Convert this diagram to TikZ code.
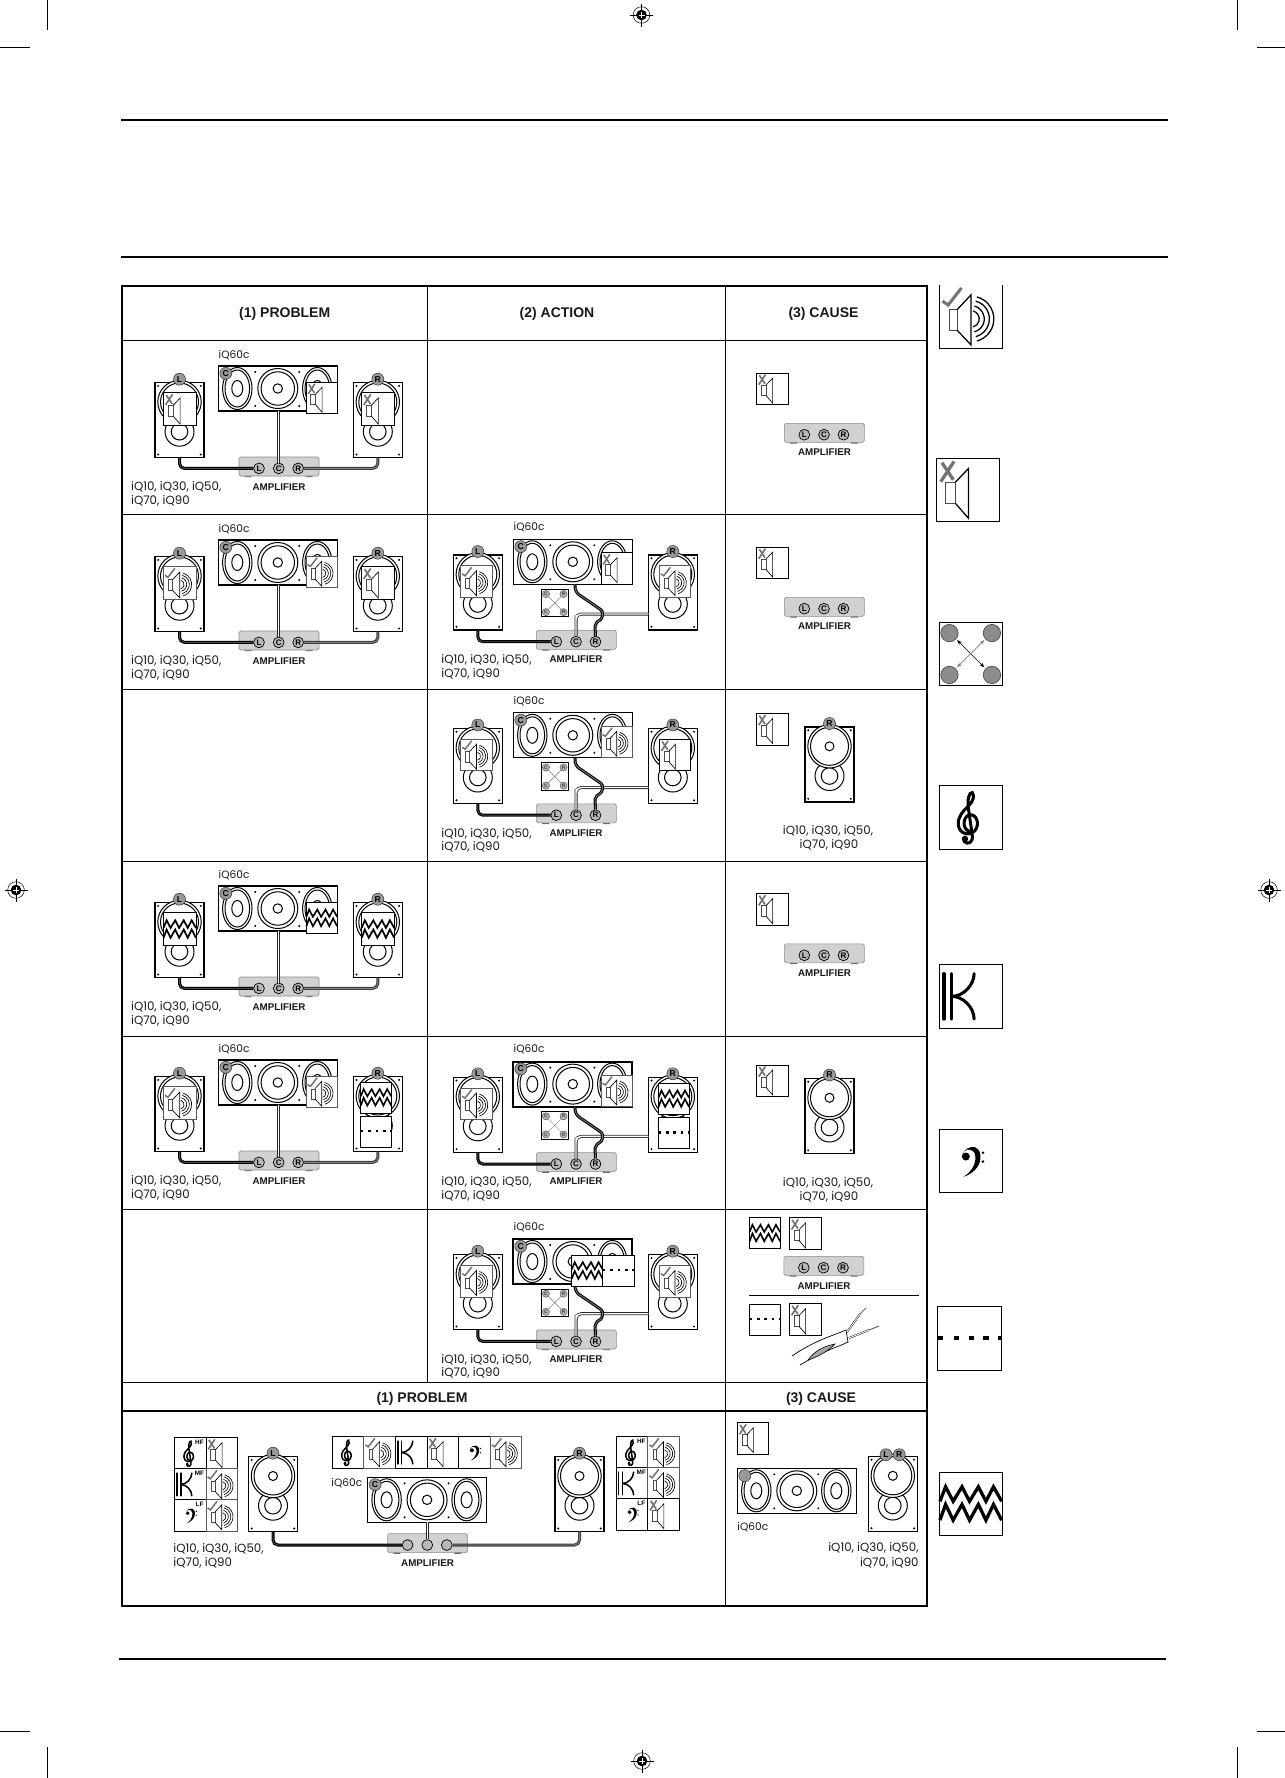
\documentclass[tikz,border=0pt]{standalone}
\usepackage{fontspec}
\setmainfont{Liberation Sans}
\newfontfamily\geo{Poppins}
\usetikzlibrary{arrows.meta}
\newcount\nn
\newcommand\tx[4][]{\global\advance\nn by 1 \node[#1] (t\the\nn) at (#2,#3) {#4};}
\tikzset{
 x=0.5pt,y=-0.5pt,
 lbl/.style={font=\geo\fontsize{5.9}{6}\selectfont,inner sep=0pt,text=black!90},
 lblc/.style={font=\geo\fontsize{5.3}{6}\selectfont,inner sep=0pt,text=black!90},
 amplbl/.style={font=\bfseries\fontsize{4.9}{5}\selectfont,inner sep=0pt,text=black!90},
 head/.style={font=\bfseries\fontsize{7}{8}\selectfont,inner sep=0pt,text=black!90},
 hf/.style={font=\bfseries\fontsize{3.2}{4}\selectfont,inner sep=0pt},
 spkbox/.style={draw=black,line width=.55pt,fill=white,minimum width=24.5pt,minimum height=37.5pt,inner sep=0pt,outer sep=0pt},
 cspkbox/.style={draw=black,line width=.65pt,fill=white,minimum width=59.5pt,minimum height=22.5pt,inner sep=0pt,outer sep=0pt},
 badge/.style={circle,draw=black!80,fill=black!40,line width=.25pt,minimum size=6pt,inner sep=0pt,font=\bfseries\fontsize{4.3}{4}\selectfont},
 jack/.style={circle,draw=black,fill=black!28,line width=.35pt,minimum size=5.4pt,inner sep=0pt,font=\bfseries\fontsize{4}{4}\selectfont},
 ampbox/.style={draw=black!45,line width=.3pt,fill=black!18,rounded corners=.8pt,minimum width=40pt,minimum height=9.5pt,inner sep=0pt},
 wireL/.style={draw=black,line width=.55pt,double=black!70,double distance=.4pt,rounded corners=2.5pt},
 wireR/.style={draw=black!75,line width=.55pt,double=black!50,double distance=.4pt,rounded corners=2.5pt},
 wireC/.style={draw=black!85,line width=.4pt,double=white,double distance=.7pt,rounded corners=2.5pt},
 ring/.style={draw=black,line width=.5pt,fill=white},
 rule/.style={draw=black,line width=.45pt},
 tabo/.style={draw=black,line width=1pt},
 tabi/.style={draw=black,line width=.55pt},
 crop/.style={draw=black,line width=.35pt},
 icb/.style={draw=black,line width=.4pt,fill=white},
}
% ---- icon glyphs (unit box 0..100)
\newcommand\chkbox{\draw[icb,draw=black!65] (0,0) rectangle (100,100);}
\newcommand\iccheck[3]{\begin{scope}[shift={(#1,#2)},scale=#3/100]
 \chkbox
 \draw[line width=#3*0.008pt,draw=black!70] (16,39.5) rectangle (28,71.6);
 \draw[line width=#3*0.01pt] (28,39.5) -- (50,16) -- (50,95) -- (28,71.6);
 \foreach \r in {13,21,29,36}{\draw[line width=#3*0.01pt] (50,54)+(-75:\r) arc (-75:75:\r);}
 \draw[line width=#3*0.024pt,draw=black!55] (5,26) -- (14,32) -- (35,5);
\end{scope}}
\newcommand\icx[3]{\begin{scope}[shift={(#1,#2)},scale=#3/100]
 \draw[icb] (0,0) rectangle (100,100);
 \draw[line width=#3*0.008pt,draw=black!70] (15,38) rectangle (30,71);
 \draw[line width=#3*0.01pt] (30,38) -- (51,16) -- (51,95) -- (30,71);
 \draw[line width=#3*0.026pt,draw=black!55] (7,37) -- (28,5) (9,7) -- (27,34);
\end{scope}}
\newcommand\crossbase[1]{
 \draw[icb] (0,0) rectangle (100,100);
 \foreach \u/\v/\t in {16/17/C,83/17/R,16/83/C,83/83/R}{
  \path[draw=black!75,fill=black!45,line width=.3pt] (\u,\v) circle [radius=13.7];}
 \draw[{Stealth[length=2.5pt]}-{Stealth[length=2.5pt]},line width=.35pt] (28,28) -- (71,71);
 \draw[{Stealth[length=2.5pt]}-{Stealth[length=2.5pt]},line width=.3pt,draw=black!50] (71,28) -- (28,71);
}
\newcommand\iccross[3]{\begin{scope}[shift={(#1,#2)},scale=#3/100]\crossbase{}\end{scope}}
\newcommand\iccrossl[3]{\begin{scope}[shift={(#1,#2)},scale=#3/100]
 \draw[icb] (0,0) rectangle (100,100);
 \draw[line width=.25pt,draw=black!50] (26,26) -- (74,74) (74,26) -- (26,74);
 \foreach \u/\v/\t in {18/17/C,82/17/R,18/83/C,82/83/R}{
  \global\advance\nn by 1
  \node[circle,draw=black!70,fill=black!30,line width=.2pt,minimum size=3.6pt,inner sep=0pt,text=black!75,font=\bfseries\fontsize{2.4}{3}\selectfont] (t\the\nn) at (\u,\v) {\t};}
\end{scope}}
\newcommand\iczz[3]{\begin{scope}[shift={(#1,#2)},scale=#3/100]
 \draw[icb] (0,0) rectangle (100,100);
 \draw[line width=#3*0.026pt,line join=miter] (1,46)--(10,23)--(22,46)--(36,23)--(48,46)--(62,23)--(74,46)--(86,23)--(99,46);
 \draw[line width=#3*0.026pt,line join=miter] (1,76)--(10,51)--(22,76)--(36,51)--(48,76)--(62,51)--(74,76)--(86,51)--(99,76);
\end{scope}}
\newcommand\icdash[3]{\begin{scope}[shift={(#1,#2)},scale=#3/100]
 \draw[icb] (0,0) rectangle (100,100);
 \draw[line width=#3*0.034pt] (1,49)--(9,49) (25,49)--(34,49) (49,49)--(57,49) (72,49)--(81,49) (95,49)--(100,49);
\end{scope}}
\newcommand\iczzd[3]{\iczz{#1-1}{#2-4.7}{31}\icdash{#1-1}{#2+29.3}{31}}
\newcommand\iczzh[3]{\iczz{#1-29.5}{#2+2.5}{#3}\icdash{#1+1.5}{#2+2.5}{#3}}
\newcommand\treb[3]{\begin{scope}[shift={(#1,#2)},scale=#3/100]
 \draw[line width=#3*0.024pt,line cap=round] (47,72) .. controls (36,68) and (37,50) .. (47,46) .. controls (59,44) and (64,60) .. (57,70) .. controls (50,80) and (32,78) .. (30,62) .. controls (29,48) and (38,40) .. (46,32) .. controls (54,24) and (56,16) .. (52,11) .. controls (47,10) and (44,22) .. (46,36) -- (52,78) .. controls (54,90) and (45,94) .. (39,88);
 \fill (40.5,84) circle [radius=5];
\end{scope}}
\newcommand\bass[3]{\begin{scope}[shift={(#1,#2)},scale=#3/100]
 \fill (42,43) circle [radius=6.3];
 \fill (36,42) .. controls (38,30) and (50,27) .. (56,28) .. controls (65,33) and (65,38) .. (65,45) .. controls (65,60) and (50,72) .. (38,75) .. controls (47,70) and (58,58) .. (57,43) .. controls (57,34) and (50,32) .. (44,32) .. controls (40,32) and (38,36) .. (36,42) -- cycle;
 \fill (69,37) circle [radius=2.2] (69,51) circle [radius=2.2];
\end{scope}}
\newcommand\kk[3]{\begin{scope}[shift={(#1,#2)},scale=#3/100]
 \draw[line width=#3*0.024pt,line cap=round] (7.4,14)--(7.4,86) (20,14)--(20,86);
 \draw[line width=#3*0.024pt,line cap=round] (20,50) .. controls (38,50) and (55,32) .. (55,14);
 \draw[line width=#3*0.024pt,line cap=round] (20,50) .. controls (38,50) and (55,68) .. (55,86);
\end{scope}}
\newcommand\bx[3]{\draw[icb] (#1,#2) rectangle +(#3,#3);}
% ---- speakers
\newcommand\spkbody[3]{
 \node[spkbox,anchor=north west] (#1) at (#2,#3) {};
 \begin{scope}[shift={(#2,#3)}]
 \path[ring] (24.5,49) circle [radius=14.5];
 \path[ring] (24.5,49) circle [radius=8.3];
 \path[ring] (24.5,19.3) circle [radius=21.7];
 \path[ring] (24.5,19.3) circle [radius=19];
 \path[ring] (24.5,19.3) circle [radius=4.5];
 \fill (3.2,3.2) circle [radius=1.1] (45.8,3.2) circle [radius=1.1] (3.2,71.8) circle [radius=1.1] (45.8,71.8) circle [radius=1.1];
 \end{scope}}
\newcommand\spk[4]{\spkbody{#1}{#2}{#3}
 \begin{scope}[shift={(#2,#3)}]\node[badge] (#1b) at (24.5,-3.5) {#4};\end{scope}}
\newcommand\cspk[4]{
 \node[cspkbox,anchor=north west] (#1) at (#2,#3) {};
 \begin{scope}[shift={(#2,#3)}]
 \foreach \cx in {19,99}{
 \path[ring] (\cx,22.5) ellipse [x radius=14.7,y radius=21];
 \path[ring] (\cx,22.5) ellipse [x radius=12.3,y radius=18.5];
 \path[ring] (\cx,22.5) ellipse [x radius=5.5,y radius=8];}
 \path[ring] (59.5,22.5) circle [radius=20];
 \path[ring] (59.5,22.5) circle [radius=16.7];
 \path[ring] (59.5,22.5) circle [radius=4.7];
 \fill (37,6) circle [radius=1.1] (81,6) circle [radius=1.1] (37,40) circle [radius=1.1] (81,40) circle [radius=1.1];
 \node[badge] (#1b) at (7.5,7.3) {#4};
 \end{scope}}
\newcommand\amp[5]{
 \begin{scope}[shift={(#1,#2)}]
 \fill[black!60] (6,18) rectangle (13,20.5) (67,18) rectangle (74,20.5);
 \node[ampbox,anchor=north west] (ampbody) at (0,0) {};
 \node[jack] (ampL) at (20.3,11.7) {#3};
 \node[jack] (ampC) at (40,11.7) {#4};
 \node[jack] (ampR) at (59.5,11.7) {#5};
 \end{scope}}
\newcommand\modelL[3]{\tx[lbl,anchor=west]{#1}{#2}{iQ10, iQ30, iQ50,}\tx[lbl,anchor=west]{#1}{#3}{iQ70, iQ90}}
\newcommand\probpanel[4]{
 \spk{spkL}{155}{382.7+#1}{L}
 \spk{spkR}{353.3}{382.7+#1}{R}
 \cspk{spkC}{218.3}{366+#1}{C}
 \amp{238.7}{456.7+#1}{L}{C}{R}
 \draw[wireC] (ampC |- spkC.south) -- (ampC.north);
 \draw[wireL] (spkL.south) |- (ampL);
 \draw[wireR] (spkR.south) |- (ampR);
 #2{163.3}{392.7+#1}{33}
 #3{306}{382.3+#1}{31.5}
 #4{361.5}{392.7+#1}{33}
 \tx[lblc,anchor=west]{218.3}{355+#1}{iQ60c}
 \modelL{130.7}{487.3+#1}{500.7+#1}
 \tx[amplbl]{279}{486.7+#1}{AMPLIFIER}
}
\newcommand\actpanel[4]{
 \spk{spkL}{453.3}{555+#1}{L}
 \spk{spkR}{648.3}{555+#1}{R}
 \cspk{spkC}{513.3}{539.3+#1}{C}
 \amp{536}{630+#1}{L}{C}{R}
 \coordinate (wa) at (575,584.3+#1);
 \coordinate (wb) at (575,592+#1);
 \coordinate (wc) at (597,607+#1);
 \coordinate (wd) at (604,612+#1);
 \coordinate (we) at (602,619+#1);
 \coordinate (wf) at (596,621+#1);
 \coordinate (wg) at (595,626+#1);
 \coordinate (ca) at (576,620+#1);
 \coordinate (cb) at (576,614+#1);
 \coordinate (cc) at (648.3,614+#1);
 \draw[wireC] (ampC.north) -- (ca) -- (cb) -- (cc);
 \draw[wireR,draw=black] (wa) -- (wb) -- (wc) .. controls (wd) and (we) .. (wf) .. controls (wg) and (wg) .. (ampR.north);
 \draw[wireL] (spkL.south) |- (ampL);
 \iccrossl{541}{589.3+#1}{27.5}
 #2{460.7}{565.7+#1}{31.5}
 #3{601}{552.7+#1}{31.5}
 #4{659.3}{565.7+#1}{31.5}
 \tx[lblc,anchor=west]{513.3}{527.3+#1}{iQ60c}
 \modelL{441}{660+#1}{673.5+#1}
 \tx[amplbl]{576}{659.3+#1}{AMPLIFIER}
}
\newcommand\causeamp[1]{
 \icx{756.5}{373+#1}{31.7}
 \amp{784}{423+#1}{L}{C}{R}
 \tx[amplbl]{824.5}{452.5+#1}{AMPLIFIER}
}
\newcommand\causespk[1]{
 \icx{756.5}{713.4+#1}{31.7}
 \spk{spkK}{805}{727+#1}{R}
 \tx[lbl]{828}{831.3+#1}{iQ10, iQ30, iQ50,}
 \tx[lbl]{829}{845+#1}{iQ70, iQ90}
}
\newcommand\regmark[2]{\begin{scope}[shift={(#1,#2)}]
 \fill (0,0) circle [radius=5.3];
 \draw[white,line width=.3pt] (-5.3,0)--(5.3,0) (0,-5.3)--(0,5.3);
 \draw[line width=.25pt] (0,0) circle [radius=8.3];
 \draw[line width=.25pt] (-11.5,0)--(-3,0) (3,0)--(11.5,0) (0,-11.5)--(0,-3) (0,3)--(0,11.5);
\end{scope}}
\begin{document}
\begin{tikzpicture}
\path[use as bounding box,fill=white] (0,0) rectangle (1285,1778);
% crop + registration
\draw[crop] (47.5,0)--(47.5,30) (1237.5,0)--(1237.5,30) (0,47)--(30,47) (1257,47)--(1285,47);
\draw[crop] (47.5,1747)--(47.5,1778) (1237.5,1747)--(1237.5,1778) (0,1731)--(30,1731) (1257,1731)--(1285,1731);
\regmark{641.5}{15}\regmark{642}{1761}\regmark{16}{890}\regmark{1269}{890}
% page rules
\draw[line width=1pt] (121,119.7)--(1168,119.7);
\draw[line width=.7pt] (121,257)--(1168,257);
\draw[line width=.9pt] (119,1659)--(1166,1659);
% table
\foreach \yy in {340,514,689,861.5,1036,1209.5}{\draw[tabi,line width=.45pt] (122,\yy)--(927,\yy);}
\draw[tabi,line width=.8pt] (122,1382.5)--(927,1382.5);
\draw[tabi,line width=.8pt] (122,1411)--(927,1411);
\draw[tabi,line width=.45pt] (427.5,286)--(427.5,1382.5);
\draw[tabi,line width=.45pt] (725,286)--(725,1606);
\draw[tabo] (122,286) rectangle (927,1606);
\tx[head]{284.7}{314}{(1) PROBLEM}
\tx[head]{557}{314}{(2) ACTION}
\tx[head]{823.5}{314}{(3) CAUSE}
\tx[head]{422}{1399}{(1) PROBLEM}
\tx[head]{821}{1399}{(3) CAUSE}
% problem column
\probpanel{0}{\icx}{\icx}{\icx}
\probpanel{174}{\iccheck}{\iccheck}{\icx}
\probpanel{520}{\iczz}{\iczz}{\iczz}
\probpanel{694}{\iccheck}{\iccheck}{\iczzd}
% action column
\actpanel{0}{\iccheck}{\icx}{\iccheck}
\actpanel{173.5}{\iccheck}{\iccheck}{\icx}
\begingroup
\tikzset{cspkbox/.append style={line width=1pt}}
\actpanel{522.3}{\iccheck}{\iccheck}{\iczzd}
\actpanel{699.7}{\iccheck}{\iczzh}{\iccheck}
\endgroup
% cause column
\causeamp{0}
\causeamp{174}
\causeamp{520.6}
\causespk{0}
\causespk{351.5}
\iczz{749.3}{1217.7}{31}
\icx{789.3}{1217.7}{32}
\amp{783.5}{1256}{L}{C}{R}
\tx[amplbl]{824}{1285.7}{AMPLIFIER}
\draw[line width=.4pt] (749,1295.3)--(919,1295.3);
\icdash{749.3}{1304}{31}
\icx{789.3}{1303.5}{32}
% cable
\coordinate (ka) at (792,1356);\coordinate (kb) at (846,1330);\coordinate (kc) at (848,1342);\coordinate (kd) at (800,1365);
\draw[line width=.35pt,fill=white] (ka) .. controls (815,1340) and (835,1335) .. (kb) -- (kc) .. controls (838,1347) and (825,1350) .. (kd);
\draw[line width=.3pt,fill=black!35] (808,1360) .. controls (815,1350) and (825,1346) .. (835,1344) .. controls (828,1351) and (818,1357) .. (808,1360) -- cycle;
\draw[line width=.9pt] (847,1332)--(860,1314);\draw[white,line width=.45pt] (847,1332)--(860,1314);
\draw[line width=.5pt,draw=black!60] (860,1314)--(866,1308);
\draw[line width=.9pt] (849,1338)--(869,1330);\draw[white,line width=.45pt] (849,1338)--(869,1330);
\draw[line width=.5pt,draw=black!60] (869,1330)--(879,1326);
% bottom panel: problem
\begin{scope}[jack/.append style={minimum size=5.4pt}]
\spk{spkL}{248.5}{1456.7}{L}
\spk{spkR}{555}{1456.7}{R}
\cspk{spkC}{367.6}{1477.3}{C}
\amp{387.3}{1533.3}{}{}{}
\draw[wireC] (ampC |- spkC.south) -- (ampC.north);
\draw[wireL] (spkL.south) |- (ampL);
\draw[wireR] (spkR.south) |- (ampR);
\end{scope}
\tx[amplbl]{427.6}{1562.7}{AMPLIFIER}
\modelL{173}{1549}{1562.5}
\tx[lblc,anchor=west]{331}{1482.7}{iQ60c}
% grids
\bx{174.5}{1437.7}{31.5}\treb{174.5}{1437.7}{31.5}\tx[hf]{199.5}{1442}{HF}\icx{206}{1437.7}{31.5}
\bx{174.5}{1468.7}{31.5}\kk{174.5}{1468.7}{31.5}\tx[hf]{199.5}{1473}{MF}\iccheck{206}{1468.7}{31.5}
\bx{174.5}{1499.7}{31.5}\bass{174.5}{1499.7}{31.5}\tx[hf]{199.5}{1504.5}{LF}\iccheck{206}{1499.7}{31.5}
\bx{616.3}{1436.7}{31.5}\treb{616.3}{1436.7}{31.5}\tx[hf]{641.3}{1441}{HF}\iccheck{647.8}{1436.7}{31.5}
\bx{616.3}{1467.7}{31.5}\kk{616.3}{1467.7}{31.5}\tx[hf]{641.3}{1472}{MF}\iccheck{647.8}{1467.7}{31.5}
\bx{616.3}{1498.7}{31.5}\bass{616.3}{1498.7}{31.5}\tx[hf]{641.3}{1503.5}{LF}\icx{647.8}{1498.7}{31.5}
\bx{332.2}{1436.7}{31.6}\treb{332.2}{1436.7}{31.6}\iccheck{363.8}{1436.7}{31.6}
\bx{395.4}{1436.7}{31.6}\kk{395.4}{1436.7}{31.6}\icx{427}{1436.7}{31.6}
\bx{458.6}{1436.7}{31.6}\bass{458.6}{1436.7}{31.6}\iccheck{490.2}{1436.7}{31.6}
% bottom panel: cause
\icx{737.3}{1422.7}{31.5}
\cspk{spkD}{737.3}{1468.3}{}
\spkbody{spkE}{868.3}{1456.5}
\node[badge] (spkEl) at (886,1454.7) {L};
\node[badge] (spkEr) at (899.3,1454.7) {R};
\tx[lblc,anchor=west]{737}{1526.7}{iQ60c}
\tx[lbl,anchor=east]{919}{1548}{iQ10, iQ30, iQ50,}
\tx[lbl,anchor=east]{919}{1562.7}{iQ70, iQ90}
% side icons
\begingroup
\renewcommand\chkbox{\fill[white] (0,0) rectangle (100,100);\draw[line width=.55pt] (0,0)--(0,100)--(100,100)--(100,0);}
\iccheck{939.3}{284.7}{63.4}
\endgroup
\icx{936.3}{458.3}{63.2}
\iccross{939.3}{622.3}{63.4}
\bx{939.3}{785.7}{63.3}\treb{939.3}{785.7}{63.3}
\bx{939.3}{964.7}{63.3}\kk{939.3}{964.7}{63.3}
\bx{939.3}{1129.3}{63.3}\bass{939.3}{1129.3}{63.3}
\icdash{937.7}{1306.7}{63.3}
\iczz{939.3}{1472.3}{63}
\end{tikzpicture}
\end{document}
